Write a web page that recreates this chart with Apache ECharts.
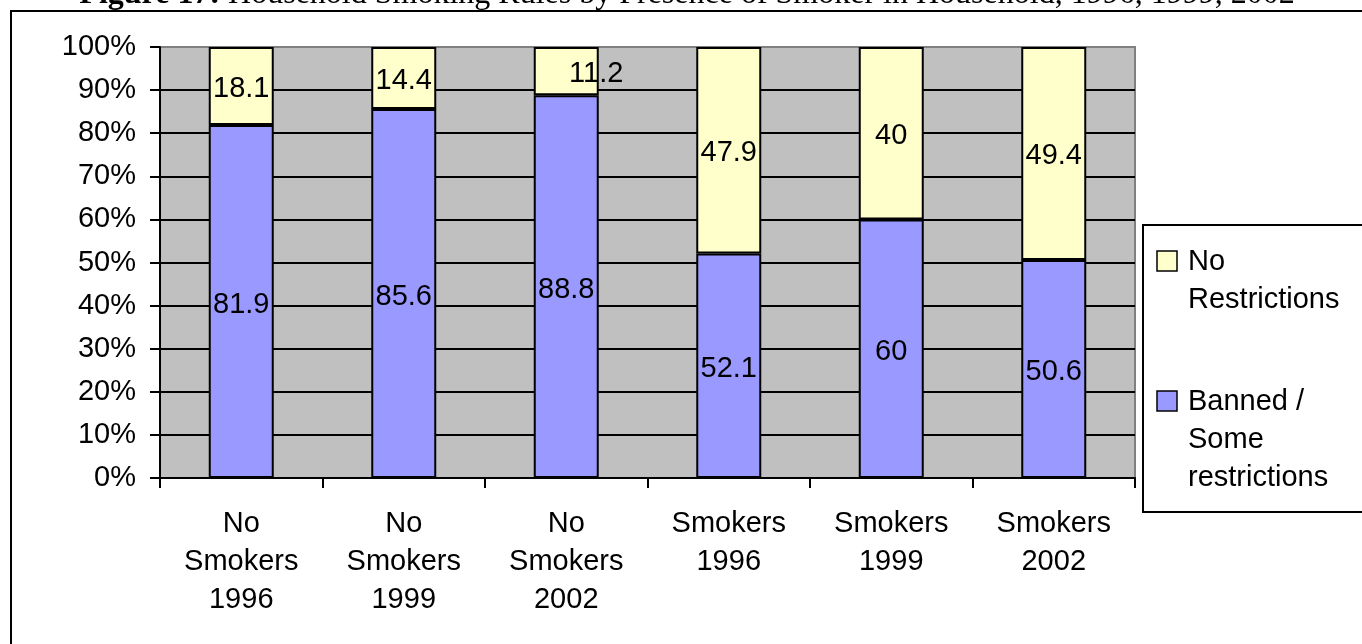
<!DOCTYPE html>
<html>
<head>
<meta charset="utf-8">
<script src="https://cdn.jsdelivr.net/npm/echarts@6/dist/echarts.min.js"></script>
<style>
  html, body { margin: 0; padding: 0; background: #fff; }
  #chart { width: 1362px; height: 644px; }
</style>
</head>
<body>
<div id="chart"></div>
<script>
// Household smoking rules, share of households by presence of a smoker
const categories = ['No\nSmokers\n1996', 'No\nSmokers\n1999', 'No\nSmokers\n2002',
                    'Smokers\n1996', 'Smokers\n1999', 'Smokers\n2002'];
const bannedSome = [81.9, 85.6, 88.8, 52.1, 60, 50.6];
const noRestrictions = [18.1, 14.4, 11.2, 47.9, 40, 49.4];
const seriesNames = ['Banned / Some restrictions', 'No Restrictions'];
const legendLines = [['No', 'Restrictions'], ['Banned /', 'Some', 'restrictions']];
const yTicks = [0, 10, 20, 30, 40, 50, 60, 70, 80, 90, 100];
const titleBold = 'Figure 17:';
const titleRest = ' Household Smoking Rules by Presence of Smoker in Household, 1996, 1999, 2002';

const FONT = '"Liberation Sans", Arial, sans-serif';
const SERIF = '"Liberation Serif", "Times New Roman", serif';
const BLUE = '#9999FF';
const YELLOW = '#FFFFCC';

const chart = echarts.init(document.getElementById('chart'), null, { renderer: 'canvas' });

const labelStyle = {
  show: true,
  position: 'inside',
  color: '#000',
  fontFamily: FONT,
  fontSize: 29,
  offset: [0, 3],
  formatter: p => String(p.value)
};

// "11.2" sits slightly to the right of its small segment
const yellowData = noRestrictions.map((v, i) =>
  i === 2 ? { value: v, label: { offset: [30, 3] } } : v);

// Legend drawn as a boxed list with the swatch beside the first line of each entry
const legendEntries = [
  { color: YELLOW, lines: legendLines[0], top: 251 },
  { color: BLUE, lines: legendLines[1], top: 391 }
];
const legendGraphics = [{
  type: 'rect', z: 10,
  shape: { x: 1143, y: 225, width: 400, height: 287 },
  style: { fill: '#fff', stroke: '#000', lineWidth: 2 }
}];
legendEntries.forEach(e => {
  legendGraphics.push({
    type: 'rect', z: 11,
    shape: { x: 1157, y: e.top, width: 20, height: 20 },
    style: { fill: e.color, stroke: '#000', lineWidth: 1.5 }
  });
  e.lines.forEach((ln, k) => {
    legendGraphics.push({
      type: 'text', z: 11,
      x: 1188, y: e.top + 11 + k * 38,
      style: { text: ln, fill: '#000', font: '29px ' + FONT, verticalAlign: 'middle', align: 'left' }
    });
  });
});

const option = {
  animation: false,
  backgroundColor: '#fff',
  grid: {
    left: 160, right: 227, top: 47, bottom: 166,
    show: true, backgroundColor: '#C0C0C0', borderColor: '#808080', borderWidth: 2
  },
  xAxis: {
    type: 'category',
    data: categories,
    axisLine: { show: true, lineStyle: { color: '#000', width: 2 } },
    axisTick: { show: true, alignWithLabel: false, length: 10, lineStyle: { color: '#000', width: 2 } },
    axisLabel: {
      interval: 0, color: '#000', fontFamily: FONT, fontSize: 29, lineHeight: 38,
      margin: 27, verticalAlign: 'top'
    },
    splitLine: { show: false }
  },
  yAxis: {
    type: 'value',
    min: yTicks[0], max: yTicks[yTicks.length - 1], interval: yTicks[1] - yTicks[0],
    axisLine: { show: true, lineStyle: { color: '#000', width: 2 } },
    axisTick: { show: true, length: 10, lineStyle: { color: '#000', width: 2 } },
    axisLabel: { color: '#000', fontFamily: FONT, fontSize: 29, margin: 24, formatter: '{value}%' },
    splitLine: { show: true, showMaxLine: false, lineStyle: { color: '#000', width: 2 } }
  },
  series: [
    {
      name: seriesNames[0], type: 'bar', stack: 'share', barWidth: '40%',
      data: bannedSome,
      itemStyle: { color: BLUE, borderColor: '#000', borderWidth: 2 },
      label: labelStyle
    },
    {
      name: seriesNames[1], type: 'bar', stack: 'share', barWidth: '40%',
      data: yellowData,
      itemStyle: { color: YELLOW, borderColor: '#000', borderWidth: 2 },
      label: labelStyle
    }
  ],
  graphic: [
    {
      type: 'rect', z: -1, silent: true,
      shape: { x: 11, y: 11, width: 1500, height: 800 },
      style: { fill: 'none', stroke: '#000', lineWidth: 2 }
    },
    {
      type: 'text', z: 5,
      x: 687, y: -5,
      style: {
        text: '{b|' + titleBold + '}{r|' + titleRest + '}',
        align: 'center', verticalAlign: 'middle',
        rich: {
          b: { fontFamily: SERIF, fontSize: 32, fontWeight: 'bold', fill: '#000' },
          r: { fontFamily: SERIF, fontSize: 32, fill: '#000' }
        }
      }
    },
    ...legendGraphics
  ]
};

chart.setOption(option);
</script>
</body>
</html>
